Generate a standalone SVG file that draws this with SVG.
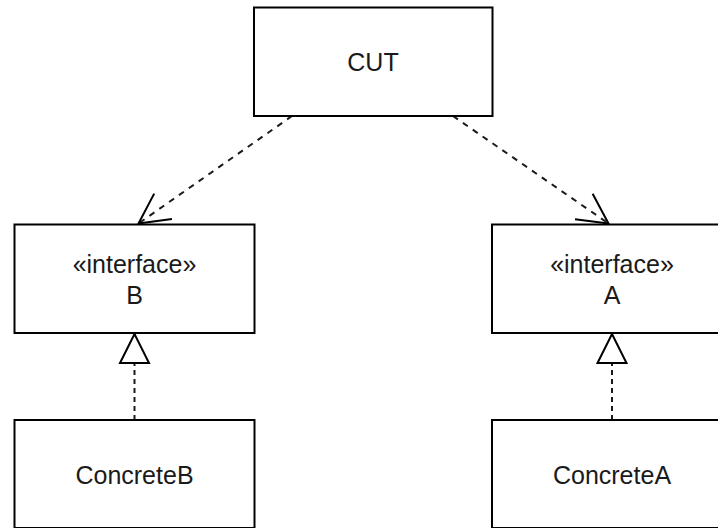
<svg xmlns="http://www.w3.org/2000/svg" width="718" height="528" viewBox="0 0 718 528">
  <style>
    .box { fill: #ffffff; stroke: #000000; stroke-width: 2; }
    .lbl { font-family: "Liberation Sans", Arial, sans-serif; font-size: 25px; fill: #1a1a1a; text-anchor: middle; }
    .dep { fill: none; stroke: #1a1a1a; stroke-width: 2; stroke-dasharray: 6 6; }
    .real { fill: none; stroke: #1a1a1a; stroke-width: 2; stroke-dasharray: 5 4; }
  </style>
  <defs>
    <marker id="open" markerUnits="userSpaceOnUse" orient="auto" refX="0" refY="0" markerWidth="40" markerHeight="40" overflow="visible">
      <path d="M -30 -15.5 L 0 0 L -30 15.5" fill="none" stroke="#000000" stroke-width="2" stroke-dasharray="none"/>
    </marker>
    <marker id="tri" markerUnits="userSpaceOnUse" orient="auto" refX="0" refY="0" markerWidth="40" markerHeight="40" overflow="visible">
      <path d="M 0 0 L -29 -14.5 L -29 14.5 Z" fill="#ffffff" stroke="#000000" stroke-width="2" stroke-dasharray="none"/>
    </marker>
  </defs>
  <g id="connectors">
    <path class="dep" d="M 292 116 L 138.5 223.5" marker-end="url(#open)"/>
    <path class="dep" d="M 453 116 L 608.5 223.5" marker-end="url(#open)"/>
    <path class="real" d="M 134.5 420 L 134.5 334" marker-end="url(#tri)"/>
    <path class="real" d="M 612 420 L 612 334" marker-end="url(#tri)"/>
  </g>
  <g id="cut">
    <rect class="box" x="254" y="7.5" width="238.5" height="108.5"/>
    <text class="lbl" x="373" y="71">CUT</text>
  </g>
  <g id="interfaceB">
    <rect class="box" x="14.5" y="224.5" width="240" height="108.5"/>
    <text class="lbl" x="134.5" y="273">«interface»</text>
    <text class="lbl" x="134.5" y="304">B</text>
  </g>
  <g id="interfaceA">
    <rect class="box" x="492" y="224.5" width="240" height="108.5"/>
    <text class="lbl" x="612" y="273">«interface»</text>
    <text class="lbl" x="612" y="304">A</text>
  </g>
  <g id="concreteB">
    <rect class="box" x="14.5" y="420" width="240" height="108"/>
    <text class="lbl" x="134.5" y="484">ConcreteB</text>
  </g>
  <g id="concreteA">
    <rect class="box" x="492" y="420" width="240" height="108"/>
    <text class="lbl" x="612" y="484">ConcreteA</text>
  </g>
</svg>
